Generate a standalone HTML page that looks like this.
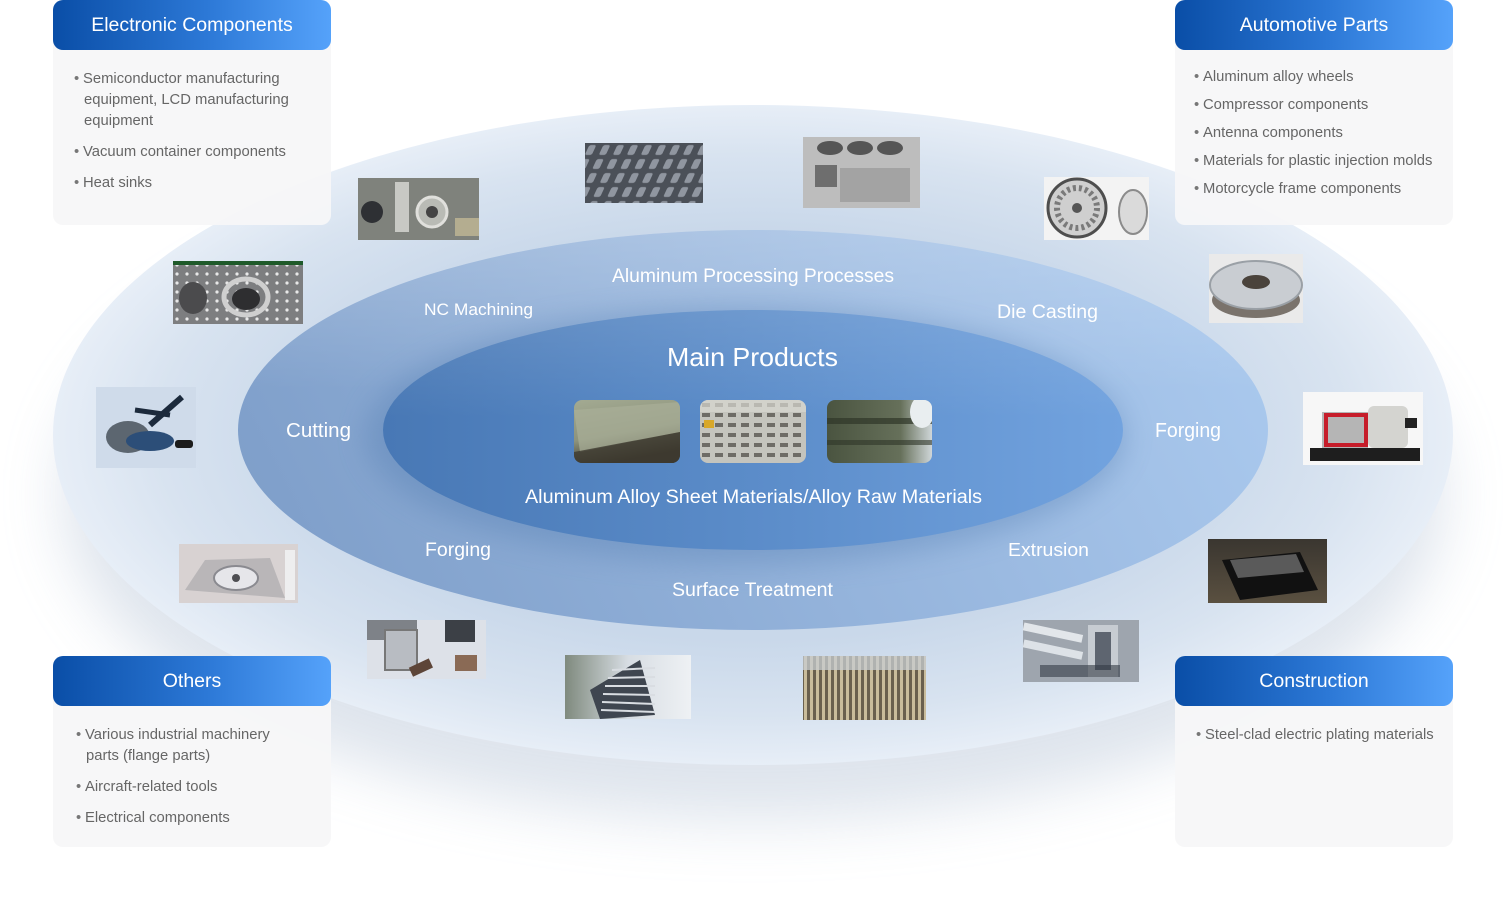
<!DOCTYPE html>
<html><head><meta charset="utf-8">
<style>
html,body{margin:0;padding:0;background:#fff;}
body{width:1506px;height:898px;position:relative;overflow:hidden;font-family:"Liberation Sans",sans-serif;}
svg.bg{position:absolute;left:0;top:0;}
.card{position:absolute;width:278px;border-radius:10px;background:rgba(247,247,248,0.94);}
.card .hd{height:50px;border-radius:10px;background:linear-gradient(90deg,#0a4ea7 0%,#2c78d6 55%,#55a2fa 100%);color:#fff;font-size:19.5px;line-height:51px;text-align:center;}
.card ul{list-style:none;margin:0;padding:0;}
.card li{position:absolute;font-size:14.8px;color:#666;line-height:21px;white-space:nowrap;}
.card li:before{content:"•";position:absolute;left:-9px;color:#777;}
.card li.nb:before{content:"";}
</style></head><body>
<svg class="bg" width="1506" height="898" viewBox="0 0 1506 898" xmlns="http://www.w3.org/2000/svg" font-family="Liberation Sans, sans-serif">
<defs>
<filter id="sh" x="-20%" y="-30%" width="140%" height="170%"><feGaussianBlur stdDeviation="30"/></filter>
<filter id="sh2" x="-20%" y="-40%" width="140%" height="180%"><feGaussianBlur stdDeviation="14"/></filter>
<radialGradient id="gOut" cx="0.5" cy="0.5" r="0.5">
<stop offset="0" stop-color="#c2d3e8"/>
<stop offset="0.62" stop-color="#c9d8ea"/>
<stop offset="0.85" stop-color="#d8e3f0"/>
<stop offset="1" stop-color="#e7eef7"/>
</radialGradient>
<linearGradient id="gMid" x1="0" y1="0.6" x2="1" y2="0.4">
<stop offset="0" stop-color="#7f9fca"/>
<stop offset="0.5" stop-color="#94b3db"/>
<stop offset="1" stop-color="#a9c8ed"/>
</linearGradient>
<linearGradient id="gMidTop" x1="0" y1="0" x2="0" y2="1">
<stop offset="0" stop-color="#ffffff" stop-opacity="0.22"/>
<stop offset="0.4" stop-color="#ffffff" stop-opacity="0"/>
</linearGradient>
<linearGradient id="gIn" x1="0" y1="0.5" x2="1" y2="0.5">
<stop offset="0" stop-color="#4878b5"/>
<stop offset="0.5" stop-color="#5b8cc9"/>
<stop offset="1" stop-color="#72a3df"/>
</linearGradient>
<linearGradient id="gInTop" x1="0" y1="0" x2="0" y2="1">
<stop offset="0" stop-color="#ffffff" stop-opacity="0.12"/>
<stop offset="0.45" stop-color="#ffffff" stop-opacity="0"/>
</linearGradient>
<pattern id="fins" x="585" y="143" width="14" height="14" patternUnits="userSpaceOnUse" patternTransform="skewX(-25)">
<rect width="14" height="14" fill="#4b5058"/>
<rect x="2" y="2" width="7" height="10" rx="2" fill="#9096a0"/>
</pattern>
<pattern id="strp" x="803" y="656" width="6" height="10" patternUnits="userSpaceOnUse">
<rect width="6" height="10" fill="#6a604e"/>
<rect x="1" width="3" height="10" fill="#c9bc9b"/>
</pattern>
<pattern id="dots" x="173" y="261" width="10" height="9" patternUnits="userSpaceOnUse">
<rect width="10" height="9" fill="#7d7e80"/>
<circle cx="4" cy="4" r="1.6" fill="#e8e8e8"/>
</pattern>
<pattern id="grid" x="700" y="400" width="13" height="10" patternUnits="userSpaceOnUse">
<rect width="13" height="10" fill="#c4c4bd"/>
<rect x="2" y="3" width="8" height="4" fill="#6e6c66"/>
</pattern>
<clipPath id="c1"><rect x="574" y="400" width="106" height="63" rx="8"/></clipPath>
<clipPath id="c2"><rect x="700" y="400" width="106" height="63" rx="8"/></clipPath>
<clipPath id="c3"><rect x="827" y="400" width="105" height="63" rx="8"/></clipPath>
<linearGradient id="gA" x1="0" y1="0" x2="0.3" y2="1"><stop offset="0" stop-color="#a3aa92"/><stop offset="0.6" stop-color="#8d937c"/><stop offset="1" stop-color="#3e3a2e"/></linearGradient>
<linearGradient id="gC" x1="0" y1="0" x2="1" y2="0"><stop offset="0" stop-color="#4a5440"/><stop offset="0.7" stop-color="#66705a"/><stop offset="1" stop-color="#cfd6d8"/></linearGradient>
<linearGradient id="gGear" x1="0" y1="0" x2="1" y2="0"><stop offset="0" stop-color="#7f8a7e"/><stop offset="0.5" stop-color="#d7dde3"/><stop offset="1" stop-color="#eef1f4"/></linearGradient>
<linearGradient id="gMold" x1="0" y1="0" x2="0" y2="1"><stop offset="0" stop-color="#3a3630"/><stop offset="1" stop-color="#5a5040"/></linearGradient>
</defs>

<!-- outer shadow -->
<ellipse cx="753" cy="495" rx="690" ry="325" fill="#a9b9cf" opacity="0.38" filter="url(#sh)"/>
<!-- outer ellipse -->
<ellipse cx="753" cy="435" rx="700" ry="330" fill="url(#gOut)"/>
<!-- middle ellipse -->
<ellipse cx="753" cy="430" rx="515" ry="200" fill="url(#gMid)"/>
<ellipse cx="753" cy="430" rx="515" ry="200" fill="url(#gMidTop)"/>
<!-- inner shadow -->
<ellipse cx="745" cy="436" rx="380" ry="128" fill="#4d78ad" opacity="0.35" filter="url(#sh2)"/>
<!-- inner ellipse -->
<ellipse cx="753" cy="430" rx="370" ry="120" fill="url(#gIn)"/>
<ellipse cx="753" cy="430" rx="370" ry="120" fill="url(#gInTop)"/>

<!-- labels -->
<g fill="#ffffff">
<text x="612" y="282" font-size="19" textLength="282" lengthAdjust="spacingAndGlyphs">Aluminum Processing Processes</text>
<text x="424" y="315" font-size="17" textLength="109" lengthAdjust="spacingAndGlyphs">NC Machining</text>
<text x="997" y="318" font-size="19" textLength="101" lengthAdjust="spacingAndGlyphs">Die Casting</text>
<text x="286" y="437" font-size="20" textLength="65" lengthAdjust="spacingAndGlyphs">Cutting</text>
<text x="1155" y="437" font-size="20" textLength="66" lengthAdjust="spacingAndGlyphs">Forging</text>
<text x="425" y="556" font-size="19" textLength="66" lengthAdjust="spacingAndGlyphs">Forging</text>
<text x="1008" y="556" font-size="18" textLength="81" lengthAdjust="spacingAndGlyphs">Extrusion</text>
<text x="672" y="596" font-size="19" textLength="161" lengthAdjust="spacingAndGlyphs">Surface Treatment</text>
<text x="667" y="366" font-size="26" textLength="171" lengthAdjust="spacingAndGlyphs">Main Products</text>
<text x="525" y="503" font-size="19" textLength="457" lengthAdjust="spacingAndGlyphs">Aluminum Alloy Sheet Materials/Alloy Raw Materials</text>
</g>

<!-- center images -->
<g clip-path="url(#c1)">
<rect x="574" y="400" width="106" height="63" fill="url(#gA)"/>
<polygon points="574,410 680,402 680,432 580,452" fill="#a9af99" opacity="0.7"/>
<polygon points="574,452 680,432 680,463 574,463" fill="#3d3a30" opacity="0.8"/>
</g>
<g clip-path="url(#c2)">
<rect x="700" y="400" width="106" height="63" fill="url(#grid)"/>
<rect x="700" y="400" width="106" height="12" fill="#d8d8d2" opacity="0.7"/>
<rect x="704" y="420" width="10" height="8" fill="#d8a82a"/>
</g>
<g clip-path="url(#c3)">
<rect x="827" y="400" width="105" height="63" fill="url(#gC)"/>
<rect x="827" y="418" width="105" height="6" fill="#2f3628" opacity="0.7"/>
<rect x="827" y="440" width="105" height="5" fill="#2f3628" opacity="0.6"/>
<ellipse cx="922" cy="412" rx="12" ry="16" fill="#e9eef0"/>
</g>

<!-- surrounding images -->
<rect x="358" y="178" width="121" height="62" fill="#8d8f89"/>
<rect x="358" y="178" width="121" height="62" fill="#6b6d68" opacity="0.4"/>
<circle cx="372" cy="212" r="11" fill="#2e3034"/>
<circle cx="432" cy="212" r="15" fill="#b9bbb5" stroke="#e0e0dc" stroke-width="3"/>
<circle cx="432" cy="212" r="6" fill="#444"/>
<rect x="395" y="182" width="14" height="50" fill="#c8c9c4"/>
<rect x="455" y="218" width="24" height="18" fill="#b4ad90"/>

<rect x="585" y="143" width="118" height="60" fill="url(#fins)"/>

<rect x="803" y="137" width="117" height="71" fill="#bdbdbd"/>
<ellipse cx="830" cy="148" rx="13" ry="7" fill="#555"/>
<ellipse cx="860" cy="148" rx="13" ry="7" fill="#555"/>
<ellipse cx="890" cy="148" rx="13" ry="7" fill="#555"/>
<rect x="815" y="165" width="22" height="22" fill="#6e6e6e"/>
<rect x="840" y="168" width="70" height="34" fill="#a3a3a3"/>

<rect x="1044" y="177" width="105" height="63" fill="#f3f3f3"/>
<circle cx="1077" cy="208" r="29" fill="#cfcfcf" stroke="#4e4e4e" stroke-width="3"/>
<circle cx="1077" cy="208" r="20" fill="none" stroke="#7a7a7a" stroke-width="6" stroke-dasharray="3 3"/>
<circle cx="1077" cy="208" r="5" fill="#555"/>
<ellipse cx="1133" cy="212" rx="14" ry="22" fill="#dadada" stroke="#8b8b8b" stroke-width="2"/>

<rect x="1209" y="254" width="94" height="69" fill="#eaeaea"/>
<ellipse cx="1256" cy="300" rx="44" ry="18" fill="#7a736c"/>
<ellipse cx="1256" cy="285" rx="46" ry="24" fill="#c9cdd2" stroke="#9aa0a6" stroke-width="2"/>
<ellipse cx="1256" cy="282" rx="14" ry="7" fill="#4a433c"/>

<rect x="1303" y="392" width="120" height="73" fill="#f7f7f7"/>
<rect x="1310" y="448" width="110" height="13" fill="#1e1e1e"/>
<rect x="1322" y="412" width="46" height="36" fill="#b5b5b5"/>
<rect x="1326" y="415" width="40" height="30" fill="none" stroke="#c61d2a" stroke-width="4"/>
<rect x="1368" y="406" width="40" height="42" rx="6" fill="#d4d4d0"/>
<rect x="1405" y="418" width="12" height="10" fill="#222"/>

<rect x="1208" y="539" width="119" height="64" fill="url(#gMold)"/>
<polygon points="1222,560 1300,552 1318,590 1240,600" fill="#111"/>
<polygon points="1230,560 1296,554 1304,572 1238,578" fill="#6d6d6d" opacity="0.8"/>

<rect x="1023" y="620" width="116" height="62" fill="#9ea5ae"/>
<rect x="1023" y="628" width="60" height="8" fill="#e2e6ea" transform="rotate(12 1050 632)"/>
<rect x="1023" y="645" width="60" height="8" fill="#dde2e7" transform="rotate(12 1050 649)"/>
<rect x="1088" y="625" width="30" height="52" fill="#c7ccd2"/>
<rect x="1095" y="632" width="16" height="38" fill="#5e6570"/>
<rect x="1040" y="665" width="80" height="12" fill="#333a44" opacity="0.6"/>

<rect x="803" y="656" width="123" height="64" fill="url(#strp)"/>
<rect x="803" y="656" width="123" height="14" fill="#c8cdd2" opacity="0.75"/>

<rect x="565" y="655" width="126" height="64" fill="url(#gGear)"/>
<polygon points="590,690 640,660 655,715 600,719" fill="#3f4650"/>
<g stroke="#d9dde2" stroke-width="2">
<line x1="612" y1="670" x2="655" y2="668"/><line x1="608" y1="678" x2="655" y2="677"/><line x1="605" y1="686" x2="655" y2="686"/><line x1="603" y1="694" x2="655" y2="695"/><line x1="602" y1="702" x2="655" y2="704"/><line x1="601" y1="710" x2="655" y2="712"/>
</g>

<rect x="367" y="620" width="119" height="59" fill="#dde1e8"/>
<rect x="367" y="620" width="50" height="20" fill="#555a60" opacity="0.7"/>
<rect x="385" y="630" width="32" height="40" fill="#b8bcc2" stroke="#777" stroke-width="2"/>
<rect x="445" y="620" width="30" height="22" fill="#3c4046"/>
<rect x="455" y="655" width="22" height="16" fill="#8a6a55"/>
<rect x="410" y="663" width="22" height="10" fill="#5d4538" transform="rotate(-25 420 668)"/>

<rect x="179" y="544" width="119" height="59" fill="#d8d2d2"/>
<polygon points="185,590 205,560 270,558 285,598" fill="#b9b6b8"/>
<ellipse cx="236" cy="578" rx="22" ry="12" fill="#e6e6ea" stroke="#8a8a90" stroke-width="2"/>
<circle cx="236" cy="578" r="4" fill="#4e4e52"/>
<rect x="285" y="550" width="10" height="50" fill="#eeeeef"/>

<rect x="96" y="387" width="100" height="81" fill="#cfdbea"/>
<ellipse cx="128" cy="437" rx="22" ry="16" fill="#5c6670"/>
<ellipse cx="150" cy="441" rx="24" ry="10" fill="#2c4e78"/>
<line x1="150" y1="425" x2="182" y2="397" stroke="#1c2a3c" stroke-width="6"/>
<line x1="135" y1="410" x2="170" y2="415" stroke="#1c2a3c" stroke-width="5"/>
<rect x="175" y="440" width="18" height="8" rx="3" fill="#1c1c1c"/>

<rect x="173" y="261" width="130" height="63" fill="url(#dots)"/>
<rect x="173" y="261" width="130" height="4" fill="#1f5a2a"/>
<ellipse cx="246" cy="297" rx="22" ry="18" fill="none" stroke="#cfcfcf" stroke-width="5"/>
<ellipse cx="246" cy="299" rx="14" ry="11" fill="#2e2e30"/>
<ellipse cx="193" cy="298" rx="14" ry="16" fill="#4b4b4d"/>
</svg>

<div class="card" style="left:53px;top:0;height:225px;">
<div class="hd">Electronic Components</div>
<ul>
<li style="left:30px;top:69px;">Semiconductor manufacturing</li>
<li class="nb" style="left:31px;top:90px;">equipment, LCD manufacturing</li>
<li class="nb" style="left:31px;top:111px;">equipment</li>
<li style="left:30px;top:142px;">Vacuum container components</li>
<li style="left:30px;top:173px;">Heat sinks</li>
</ul>
</div>

<div class="card" style="left:1175px;top:0;height:225px;">
<div class="hd">Automotive Parts</div>
<ul>
<li style="left:28px;top:67px;">Aluminum alloy wheels</li>
<li style="left:28px;top:95px;">Compressor components</li>
<li style="left:28px;top:123px;">Antenna components</li>
<li style="left:28px;top:151px;">Materials for plastic injection molds</li>
<li style="left:28px;top:179px;">Motorcycle frame components</li>
</ul>
</div>

<div class="card" style="left:53px;top:656px;height:191px;">
<div class="hd">Others</div>
<ul>
<li style="left:32px;top:69px;">Various industrial machinery</li>
<li class="nb" style="left:33px;top:90px;">parts (flange parts)</li>
<li style="left:32px;top:121px;">Aircraft-related tools</li>
<li style="left:32px;top:152px;">Electrical components</li>
</ul>
</div>

<div class="card" style="left:1175px;top:656px;height:191px;">
<div class="hd">Construction</div>
<ul>
<li style="left:30px;top:69px;">Steel-clad electric plating materials</li>
</ul>
</div>
</body></html>
